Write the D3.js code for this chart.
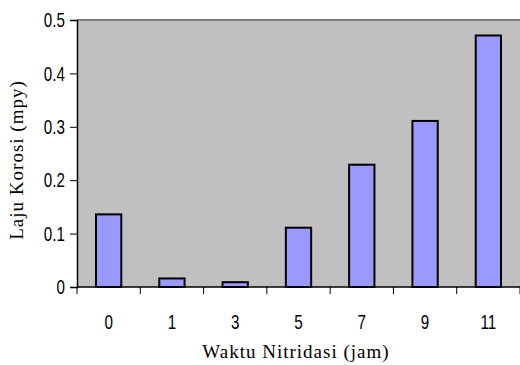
<!DOCTYPE html>
<html>
  <head>
    <meta charset="UTF-8">
    <title>Laju Korosi vs Waktu Nitridasi</title>
    <style>
      body { margin: 0; background: #fff; }
      .num { font-family: "Liberation Sans", Arial, sans-serif; }
      .ttl { font-family: "Liberation Serif", "Times New Roman", serif; }
    </style>
  </head>
  <body>
    <svg></svg>
    <script src="https://d3js.org/d3.v7.min.js"></script>
    <script>

// data
var categories = ["0", "1", "3", "5", "7", "9", "11"];
var values = [0.136, 0.016, 0.009, 0.111, 0.229, 0.311, 0.471];
var yTicks = [0, 0.1, 0.2, 0.3, 0.4, 0.5];

var config = {
  "width": 520,
  "height": 365,
  "narrow": 0.76,   // squeeze digits to look like a narrow face
  "margin": { "top": 20, "right": 0, "bottom": 78, "left": 77 }
};

var svg = d3.select("svg")
  .attr("width", config.width)
  .attr("height", config.height);

var margin = config.margin,
  width = config.width - margin.left - margin.right,
  height = config.height - margin.top - margin.bottom;

var g = svg.append("g")
  .attr("transform", `translate(${margin.left},${margin.top})`);

var x = d3.scaleBand()
  .domain(categories)
  .range([0, width])
  .paddingInner(0.6)
  .paddingOuter(0.3);

var xOuter = d3.scaleBand()
  .domain(categories)
  .range([0, width]);

var y = d3.scaleLinear()
  .domain([0, 0.5])
  .range([height, 0]);

// plot background
g.append("rect")
  .attr("width", width)
  .attr("height", height)
  .attr("fill", "#c0c0c0");

// top border of plot area
g.append("line")
  .attr("x1", 0).attr("x2", width)
  .attr("y1", 0).attr("y2", 0)
  .attr("stroke", "#808080")
  .attr("stroke-width", 2);

// bars
g.selectAll(".bar")
  .data(values)
  .enter().append("rect")
    .attr("class", "bar")
    .attr("x", function(d, i){ return x(categories[i]); })
    .attr("y", function(d){ return y(d); })
    .attr("width", x.bandwidth())
    .attr("height", function(d){ return height - y(d); })
    .attr("fill", "#9999ff")
    .attr("stroke", "#000")
    .attr("stroke-width", 2);

// y axis (line + ticks from d3, labels drawn narrow by hand)
var yAxis = g.append("g")
  .call(d3.axisLeft(y)
    .tickValues(yTicks)
    .tickSize(7)
    .tickFormat(""));
yAxis.select(".domain").attr("stroke", "#000").attr("stroke-width", 1.5);
yAxis.selectAll("line").attr("stroke", "#000");

g.selectAll(".ylbl")
  .data(yTicks)
  .enter().append("text")
    .attr("class", "ylbl num")
    .attr("transform", function(d){ return `translate(-12,${y(d)}) scale(${config.narrow},1)`; })
    .attr("dy", "0.36em")
    .attr("text-anchor", "end")
    .attr("font-size", 20)
    .text(function(d){ return d === 0 ? "0" : d3.format(".1f")(d); });

// x axis: ticks at category boundaries
var bounds = categories.map(function(c){ return xOuter(c); }).concat([width]);
var xAxis = g.append("g")
  .attr("transform", `translate(0,${height})`);
xAxis.append("line")
  .attr("x1", 0).attr("x2", width)
  .attr("y1", 0).attr("y2", 0)
  .attr("stroke", "#000")
  .attr("stroke-width", 1.5);
xAxis.selectAll(".tick")
  .data(bounds)
  .enter().append("line")
    .attr("class", "tick")
    .attr("x1", function(d){ return d; })
    .attr("x2", function(d){ return d; })
    .attr("y1", 0).attr("y2", 7)
    .attr("stroke", "#000");
xAxis.selectAll(".lbl")
  .data(categories)
  .enter().append("text")
    .attr("class", "lbl num")
    .attr("transform", function(d){
      return `translate(${xOuter(d) + xOuter.bandwidth() / 2},42) scale(${config.narrow},1)`;
    })
    .attr("text-anchor", "middle")
    .attr("font-size", 20)
    .text(function(d){ return d; });

// axis titles
svg.append("text")
  .attr("class", "ttl")
  .attr("x", 296)
  .attr("y", 358)
  .attr("text-anchor", "middle")
  .attr("font-size", 19)
  .attr("letter-spacing", 1)
  .text("Waktu Nitridasi (jam)");

svg.append("text")
  .attr("class", "ttl")
  .attr("transform", "translate(23,160) rotate(-90)")
  .attr("text-anchor", "middle")
  .attr("font-size", 19)
  .attr("letter-spacing", 1)
  .text("Laju Korosi (mpy)");

    </script>
  </body>
</html>
